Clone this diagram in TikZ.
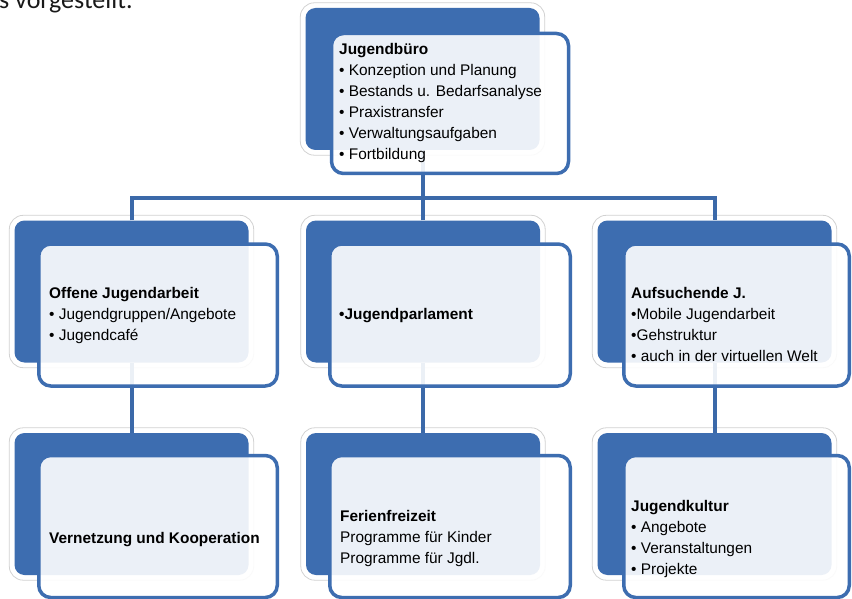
\documentclass[tikz,border=0pt]{standalone}
\usepackage{fontspec}
\setmainfont{Liberation Sans}
\newfontfamily\carlito{Carlito}
\pgfdeclarelayer{halolayer}
\pgfdeclarelayer{connlayer}
\pgfsetlayers{halolayer,connlayer,main}
\definecolor{boxblue}{HTML}{3D6DB0}
\definecolor{linkblue}{HTML}{3B69A9}
\definecolor{halogray}{HTML}{D2D2D2}
\tikzset{
  backbox/.style={fill=boxblue, draw=none, rounded corners=10pt, inner sep=0pt,
    minimum width=234pt, minimum height=142pt},
  frontbox/.style={draw=boxblue, line width=3.5pt, fill=white, fill opacity=0.9,
    rounded corners=12pt, inner sep=0pt, minimum height=142pt},
  halo/.style={fill=white, draw=halogray, line width=0.8pt, rounded corners=14pt},
  conn/.style={draw=linkblue, line width=4pt},
  txt/.style={anchor=north west, inner sep=0pt, align=left, text=black,
    font=\fontsize{15.4}{21}\selectfont},
  frag/.style={anchor=base west, inner sep=0pt, text=black!90,
    font=\carlito\fontsize{26}{30}\selectfont}
}
\newcommand{\fs}{\rule{0pt}{12pt}}
\begin{document}
\begin{tikzpicture}[x=1pt,y=-1pt]
\useasboundingbox (0,0) rectangle (852,599);
% back boxes
\node[backbox] (b0) at (422.5,79) {};
\node[backbox] (b1) at (131.5,291.5) {};
\node[backbox] (b2) at (423,291.5) {};
\node[backbox] (b3) at (714.5,291.5) {};
\node[backbox] (b4) at (131.5,504) {};
\node[backbox] (b5) at (423,504) {};
\node[backbox] (b6) at (714.5,504) {};
\begin{pgfonlayer}{halolayer}
  \fill[white] (0,0) rectangle (852,599);
  \foreach \b in {b0,b1,b2,b3,b4,b5,b6}{
    \draw[halo] ([xshift=-5pt,yshift=5pt]\b.north west) rectangle ([xshift=5pt,yshift=-5pt]\b.south east);
  }
\end{pgfonlayer}
\begin{pgfonlayer}{connlayer}
  \coordinate (bar) at (423,198);
  \draw[conn] (b0.south) -- (b0.south |- bar);
  \draw[conn] (b1.north) |- (bar) -| (b3.north);
  \draw[conn] (b2.north) -- (b2.north |- bar);
  \draw[conn] (b1.south) -- (b4.north);
  \draw[conn] (b2.south) -- (b5.north);
  \draw[conn] (b3.south) -- (b6.north);
\end{pgfonlayer}
% front boxes
\node[frontbox, minimum width=237pt, minimum height=140pt] (f0) at (450,103.5) {};
\node[frontbox, minimum width=238.5pt] (f1) at (158,315) {};
\node[frontbox, minimum width=240.5pt] (f2) at (450,315) {};
\node[frontbox, minimum width=225.5pt] (f3) at (736.5,315) {};
\node[frontbox, minimum width=238.5pt] (f4) at (158,526.5) {};
\node[frontbox, minimum width=240.5pt] (f5) at (450,526.5) {};
\node[frontbox, minimum width=225.5pt] (f6) at (736.5,526.5) {};
% texts
\node[txt] (t0) at (339,42) {\fs\textbf{Jugendbüro}\\• Konzeption und Planung\\• Bestands u. Bedarfsanalyse\\• Praxistransfer\\• Verwaltungsaufgaben\\• Fortbildung};
\node[txt] (t1) at (49,286) {\fs\textbf{Offene Jugendarbeit}\\• Jugendgruppen/Angebote\\• Jugendcafé};
\node[txt] (t2) at (339,307) {\fs\textbf{•Jugendparlament}};
\node[txt] (t3) at (631,286) {\fs\textbf{Aufsuchende J.}\\•Mobile Jugendarbeit\\•Gehstruktur\\• auch in der virtuellen Welt};
\node[txt] (t4) at (49,531) {\fs\textbf{Vernetzung und Kooperation}};
\node[txt] (t5) at (340,509) {\fs\textbf{Ferienfreizeit}\\Programme für Kinder\\Programme für Jgdl.};
\node[txt] (t6) at (631,499) {\fs\textbf{Jugendkultur}\\• Angebote\\• Veranstaltungen\\• Projekte};
% cut-off text fragment
\node[frag] (fr) at (-1,9) {s vorgestellt.};
\end{tikzpicture}
\end{document}
